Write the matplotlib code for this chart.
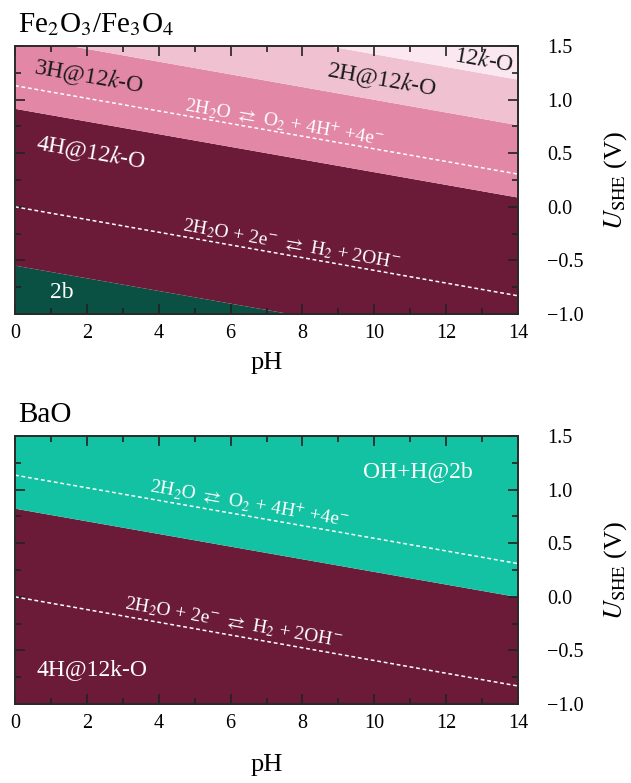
import numpy as np
import matplotlib
matplotlib.use("Agg")
import matplotlib.pyplot as plt
from matplotlib.ticker import MultipleLocator, FuncFormatter

plt.rcParams['font.family'] = ['Liberation Serif', 'DejaVu Serif']
plt.rcParams['mathtext.fontset'] = 'stix'

# ---------------- data ----------------
ph_ends = [0.0, 14.0]                      # pH at the two ends of every line

# Fe2O3/Fe3O4 panel: boundaries U_SHE at pH 0 and pH 14 (bottom -> top)
fe_regions = ["2b", "4H@12k-O", "3H@12k-O", "2H@12k-O", "12k-O"]
fe_bounds = [(-0.545, -1.372), (0.918, 0.090), (1.595, 0.765), (2.02, 1.19)]
fe_colors = ["#0a5043", "#6b1b37", "#e287a6", "#efc1d1", "#fbe7ef"]

# BaO panel
ba_regions = ["4H@12k-O", "OH+H@2b"]
ba_bounds = [(0.826, 0.0)]
ba_colors = ["#6b1b37", "#12c2a2"]

# water stability lines (U at pH 0, pH 14)
o2_line_fe = (1.13, 0.305)
h2_line_fe = (0.0, -0.830)
o2_line_ba = (1.135, 0.31)
h2_line_ba = (0.0, -0.832)

o2_label = r"2H$_2$O $\rightleftarrows$ O$_2$ + 4H$^{+}$ +4e$^{-}$"
h2_label = r"2H$_2$O + 2e$^{-}$ $\rightleftarrows$ H$_2$ + 2OH$^{-}$"

xticks = np.arange(0, 15, 2)
yticks = np.arange(-1.0, 1.51, 0.5)
xlim = (0, 14)
ylim = (-1.0, 1.5)

# ---------------- figure ----------------
W, H = 631, 783
fig = plt.figure(figsize=(W / 100, H / 100), dpi=100)
ax1 = fig.add_axes([15 / W, 1 - 314 / H, 503 / W, 268 / H])
ax2 = fig.add_axes([15 / W, 1 - 704 / H, 503 / W, 268 / H])

ph = np.array(ph_ends)


def line(b):
    return np.array(b)


def fill_regions(ax, bounds, colors):
    lows = [np.full(2, ylim[0] - 1)] + [line(b) for b in bounds]
    highs = [line(b) for b in bounds] + [np.full(2, ylim[1] + 1)]
    for lo, hi, c in zip(lows, highs, colors):
        ax.fill_between(ph, lo, hi, color=c, lw=0, zorder=1)


def style(ax, title, xlabelpad):
    ax.set_xlim(*xlim)
    ax.set_ylim(*ylim)
    ax.set_xticks(xticks)
    ax.set_yticks(yticks)
    ax.xaxis.set_minor_locator(MultipleLocator(1))
    ax.yaxis.set_minor_locator(MultipleLocator(0.25))
    ax.tick_params(which='both', direction='in', top=True, bottom=True,
                   left=True, right=True, labelleft=False, labelright=True,
                   color='#222222', width=1.2, labelsize=14.5)
    ax.tick_params(which='major', length=7)
    ax.tick_params(which='minor', length=4)
    ax.tick_params(axis='y', which='major', pad=21)
    ax.tick_params(axis='x', which='major', pad=7)
    ax.yaxis.set_major_formatter(FuncFormatter(
        lambda v, p: ("%.1f" % (0.0 if abs(v) < 1e-9 else v)).replace('-', '\u2212')))
    for s in ax.spines.values():
        s.set_color('#2a2a2a')
        s.set_linewidth(1.4)
        s.set_zorder(5)
    ax.set_xlabel("pH", fontsize=19, labelpad=xlabelpad)
    ax.yaxis.set_label_position('right')
    ax.set_ylabel(r"$U_{\rm SHE}$ (V)", fontsize=19, labelpad=13)
    ax.set_title(title, loc='left', fontsize=21, pad=10, x=0.006)


def water_line(ax, b):
    ax.plot(ph, line(b), color='white', lw=1.1, ls=(0, (2.5, 1.8)), zorder=3)


def angle(b):
    return np.degrees(np.arctan2(b[1] - b[0], ph[1] - ph[0]))


def rtext(ax, x, y, s, b, color='white', size=14):
    ax.text(x, y, s, rotation=angle(b), transform_rotates_text=True,
            rotation_mode='anchor', ha='center', va='center',
            color=color, fontsize=size, zorder=4)


# ---- top panel ----
fill_regions(ax1, fe_bounds, fe_colors)
water_line(ax1, o2_line_fe)
water_line(ax1, h2_line_fe)
style(ax1, r"Fe$_2$O$_3$/Fe$_3$O$_4$", 7)

rtext(ax1, 2.06, 1.22, r"3H@12$k$-O", fe_bounds[2], color='#1a1a1a', size=17)
rtext(ax1, 10.2, 1.19, r"2H@12$k$-O", fe_bounds[3], color='#1a1a1a', size=17)
rtext(ax1, 13.06, 1.37, r"12$k$-O", fe_bounds[3], color='#1a1a1a', size=17)
rtext(ax1, 2.12, 0.51, r"4H@12$k$-O", fe_bounds[1], color='white', size=17)
rtext(ax1, 7.49, 0.79, o2_label, o2_line_fe)
rtext(ax1, 7.69, -0.356, h2_label, h2_line_fe)
ax1.text(1.31, -0.80, "2b", color='white', fontsize=17, ha='center', va='center', zorder=4)

# ---- bottom panel ----
fill_regions(ax2, ba_bounds, ba_colors)
water_line(ax2, o2_line_ba)
water_line(ax2, h2_line_ba)
style(ax2, "BaO", 15)

rtext(ax2, 6.53, 0.875, o2_label, o2_line_ba)
rtext(ax2, 6.09, -0.244, h2_label, h2_line_ba)
ax2.text(11.22, 1.17, "OH+H@2b", color='white', fontsize=17, ha='center', va='center', zorder=4)
ax2.text(2.14, -0.683, "4H@12k-O", color='white', fontsize=17, ha='center', va='center', zorder=4)

fig.savefig("out.png", dpi=100)
